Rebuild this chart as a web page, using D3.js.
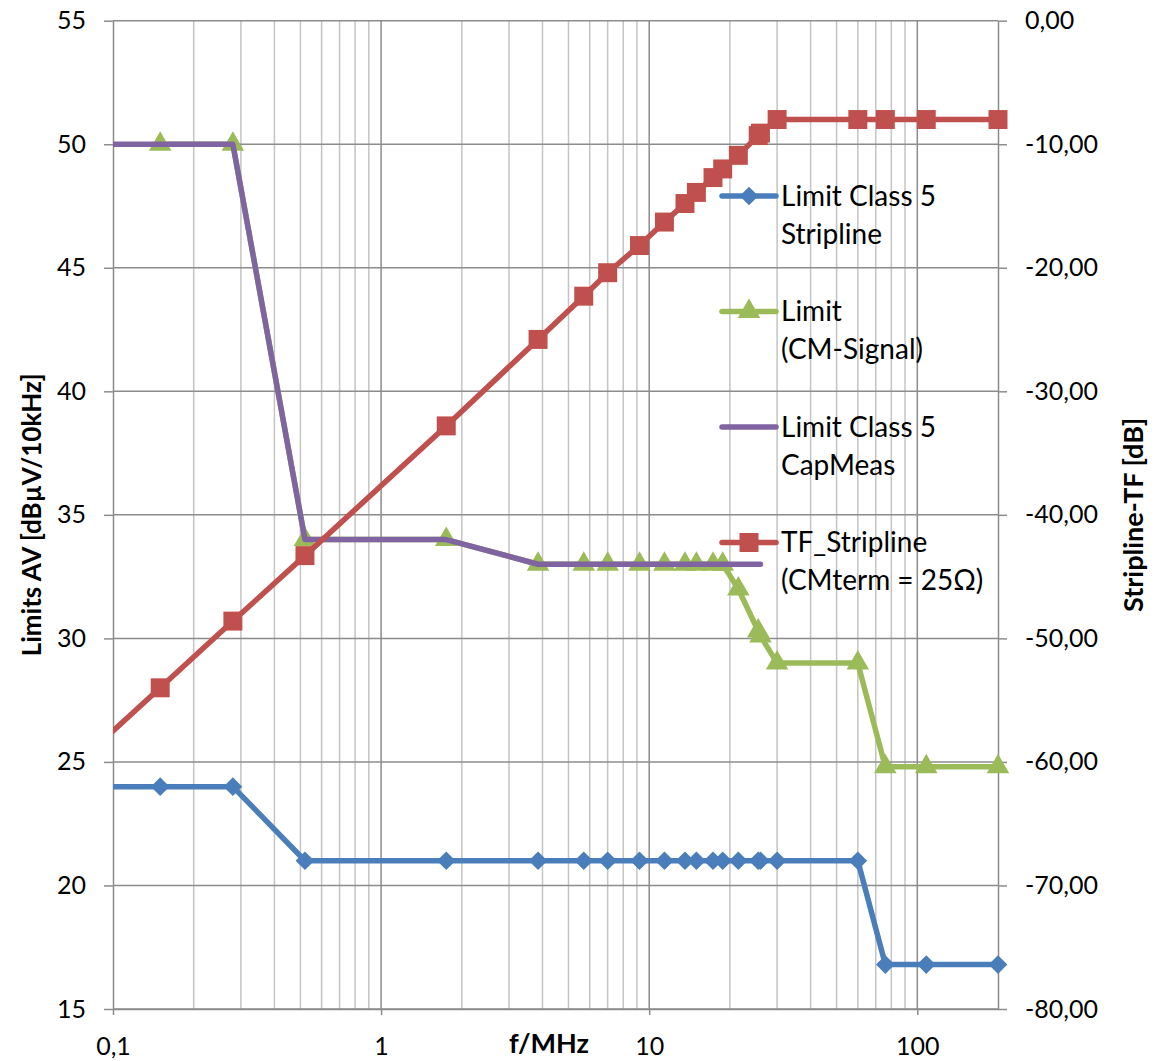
<!DOCTYPE html>
<html>
<head>
<meta charset="utf-8">
<script src="https://cdn.jsdelivr.net/npm/d3@7"></script>
<style>
body { margin: 0; background: #fff; }
text { font-family: Lato, "Open Sans", sans-serif; fill: #000; }
</style>
</head>
<body>
<div id="chart"></div>
<script>
// frequencies in MHz (first point lies left of the axis start, the line is clipped there)
const freqs = [0.09, 0.15, 0.28, 0.52, 1.75, 3.85, 5.7, 7, 9.2, 11.4, 13.6, 15, 17.3, 18.8, 21.5, 25.5, 26, 30, 60, 76, 108, 200]
// Limit Class 5 Stripline  [dBuV/10kHz]
const stripLimit = [24, 24, 24, 21, 21, 21, 21, 21, 21, 21, 21, 21, 21, 21, 21, 21, 21, 21, 21, 16.8, 16.8, 16.8]
// Limit (CM-Signal)
const cmLimit = [null, 50, 50, 34, 34, 33, 33, 33, 33, 33, 33, 33, 33, 33, 32, 30.3, 30.1, 29, 29, 24.8, 24.8, 24.8]
// Limit Class 5 CapMeas
const capFreqs = [0.09, 0.28, 0.52, 1.75, 3.85, 26]
const capLimit = [50, 50, 34, 34, 33, 33]
// TF_Stripline [dB], right axis
const tfStripline = [-58.4, -54.0, -48.6, -43.3, -32.8, -25.8, -22.3, -20.4, -18.2, -16.3, -14.8, -13.9, -12.7, -12.0, -10.9, -9.3, -9.1, -8, -8, -8, -8, -8]

const leftTicks = [15, 20, 25, 30, 35, 40, 45, 50, 55]
const rightTicks = [-80, -70, -60, -50, -40, -30, -20, -10, 0]
const xTicks = [0.1, 1, 10, 100]
const xMinor = [0.2, 0.3, 0.4, 0.5, 0.6, 0.7, 0.8, 0.9, 2, 3, 4, 5, 6, 7, 8, 9, 20, 30, 40, 50, 60, 70, 80, 90]

const legendNames = [["Limit Class 5", "Stripline"], ["Limit", "(CM-Signal)"], ["Limit Class 5", "CapMeas"], ["TF_Stripline", "(CMterm = 25\u03A9)"]]

const width = 1159, height = 1061
const margin = {top: 20.7, right: 161, bottom: 52, left: 113}

const colors = {blue: "#4a7ebb", green: "#9bbb59", purple: "#8064a2", red: "#c0504d"}

const svg = d3.select("#chart").append("svg")
	.attr("width", width)
	.attr("height", height)

const x = d3.scaleLog()
	.domain([0.1, 200])
	.range([margin.left, width - margin.right])

const y = d3.scaleLinear()
	.domain([15, 55])
	.range([height - margin.bottom, margin.top])

const y2 = d3.scaleLinear()
	.domain([-80, 0])
	.range([height - margin.bottom, margin.top])

const locale = d3.formatLocale({decimal: ",", thousands: ".", grouping: [3], currency: ["", ""], minus: "-"})
const fmtRight = locale.format(".2f")

// grid
const grid = svg.append("g")
grid.selectAll("line.minor")
	.data(xMinor)
	.join("line")
	.attr("x1", d => x(d)).attr("x2", d => x(d))
	.attr("y1", y(55)).attr("y2", y(15))
	.attr("stroke", "#c4c4c4").attr("stroke-width", 1.5)
grid.selectAll("line.major")
	.data(xTicks.slice(1))
	.join("line")
	.attr("x1", d => x(d)).attr("x2", d => x(d))
	.attr("y1", y(55)).attr("y2", y(15))
	.attr("stroke", "#8c8c8c").attr("stroke-width", 1.5)
grid.append("g").selectAll("line")
	.data(leftTicks)
	.join("line")
	.attr("x1", x(0.1)).attr("x2", x(200))
	.attr("y1", d => y(d)).attr("y2", d => y(d))
	.attr("stroke", "#8c8c8c").attr("stroke-width", 1.5)

// axes
const axisStyle = g => {
	g.selectAll("path, line").attr("stroke", "#8c8c8c").attr("stroke-width", 1.5)
	g.selectAll("text").style("font-family", "Lato, 'Open Sans', sans-serif").attr("fill", "#000")
}

svg.append("g")
	.attr("transform", `translate(${margin.left},0)`)
	.call(d3.axisLeft(y).tickValues(leftTicks).tickSize(9).tickPadding(18).tickSizeOuter(0))
	.call(axisStyle)
	.selectAll("text").style("font-size", "25px")

svg.append("g")
	.attr("transform", `translate(${width - margin.right},0)`)
	.call(d3.axisRight(y2).tickValues(rightTicks).tickFormat(fmtRight).tickSize(9).tickPadding(18).tickSizeOuter(0))
	.call(axisStyle)
	.selectAll("text").style("font-size", "25px")

svg.append("g")
	.attr("transform", `translate(0,${height - margin.bottom})`)
	.call(d3.axisBottom(x).tickValues(xTicks).tickFormat(d => locale.format("~g")(d)).tickSize(6).tickPadding(22).tickSizeOuter(0))
	.call(axisStyle)
	.selectAll("text").style("font-size", "25px")

// axis titles
svg.append("text")
	.attr("transform", `translate(41,${(y(55) + y(15)) / 2}) rotate(-90)`)
	.attr("text-anchor", "middle")
	.attr("font-weight", "bold")
	.attr("font-size", 26)
	.text("Limits AV [dB\u00B5V/10kHz]")

svg.append("text")
	.attr("transform", `translate(1143,${(y(55) + y(15)) / 2}) rotate(-90)`)
	.attr("text-anchor", "middle")
	.attr("font-weight", "bold")
	.attr("font-size", 27)
	.text("Stripline-TF [dB]")

svg.append("text")
	.attr("x", 549).attr("y", 1044)
	.attr("dy", "0.35em")
	.attr("text-anchor", "middle")
	.attr("font-weight", "bold")
	.attr("font-size", 27)
	.text("f/MHz")

// clip the lines at the left axis
svg.append("clipPath").attr("id", "clip")
	.append("rect")
	.attr("x", margin.left).attr("y", 0)
	.attr("width", width - margin.left).attr("height", height)

const plot = svg.append("g").attr("clip-path", "url(#clip)")

const diamond = d3.symbol(d3.symbolSquare, 175)
const triangle = d3.symbol(d3.symbolTriangle, 220)
const square = d3.symbol(d3.symbolSquare, 360)

function drawSeries(xs, ys, scale, color, sym, rot) {
	const pts = xs.map((f, i) => [f, ys[i]]).filter(p => p[1] != null)
	const line = d3.line()
		.x(d => x(d[0]))
		.y(d => scale(d[1]))
	plot.append("path")
		.datum(pts)
		.attr("fill", "none")
		.attr("stroke", color)
		.attr("stroke-width", 5.5)
		.attr("stroke-linejoin", "round")
		.attr("stroke-linecap", "round")
		.attr("d", line)
	if (sym) {
		plot.append("g").selectAll("path")
			.data(pts)
			.join("path")
			.attr("d", sym)
			.attr("fill", color)
			.attr("transform", d => `translate(${x(d[0])},${scale(d[1])}) rotate(${rot})`)
	}
}

drawSeries(freqs, stripLimit, y, colors.blue, diamond, 45)
drawSeries(freqs, cmLimit, y, colors.green, triangle, 0)
drawSeries(capFreqs, capLimit, y, colors.purple, null, 0)
drawSeries(freqs, tfStripline, y2, colors.red, square, 0)

// legend
const legendSyms = [[diamond, 45, colors.blue], [triangle, 0, colors.green], [null, 0, colors.purple], [square, 0, colors.red]]
const legend = svg.append("g")
legendNames.forEach((names, i) => {
	const cy = 196 + i * 115.5
	const g = legend.append("g").attr("transform", `translate(0,${cy})`)
	g.append("line")
		.attr("x1", 722).attr("x2", 776)
		.attr("stroke", legendSyms[i][2]).attr("stroke-width", 5.5)
		.attr("stroke-linecap", "round")
	if (legendSyms[i][0]) {
		g.append("path")
			.attr("d", legendSyms[i][0])
			.attr("fill", legendSyms[i][2])
			.attr("transform", `translate(749,0) rotate(${legendSyms[i][1]})`)
	}
	g.selectAll("text")
		.data(names)
		.join("text")
		.attr("x", 781)
		.attr("y", (d, j) => j * 38)
		.attr("dy", "0.35em")
		.attr("font-size", 28)
		.text(d => d)
})
</script>
</body>
</html>
